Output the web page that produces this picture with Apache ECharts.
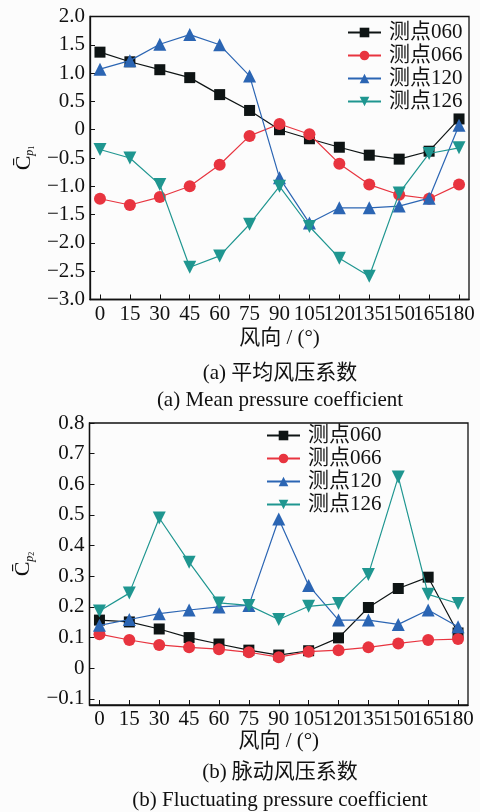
<!DOCTYPE html>
<html>
<head>
<meta charset="utf-8">
<script src="https://cdn.jsdelivr.net/npm/echarts@6/dist/echarts.min.js"></script>
<style>
    html, body { margin: 0; padding: 0; background: #fcfcfc; }
    #main { width: 480px; height: 812px; }
</style>
</head>
<body>
<div id="main"></div>
<script>
    // 风向 (°)
    var angles = [0, 15, 30, 45, 60, 75, 90, 105, 120, 135, 150, 165, 180];
    var names = ['测点060', '测点066', '测点120', '测点126'];

    // (a) 平均风压系数
    var mean060 = [1.37, 1.20, 1.06, 0.92, 0.62, 0.34, 0.00, -0.16, -0.31, -0.45, -0.52, -0.38, 0.19];
    var mean066 = [-1.22, -1.33, -1.19, -1.00, -0.62, -0.11, 0.10, -0.08, -0.60, -0.97, -1.15, -1.22, -0.97];
    var mean120 = [1.07, 1.22, 1.51, 1.68, 1.50, 0.95, -0.85, -1.65, -1.38, -1.38, -1.35, -1.21, 0.08];
    var mean126 = [-0.35, -0.50, -0.97, -2.43, -2.23, -1.67, -1.00, -1.71, -2.27, -2.59, -1.12, -0.42, -0.32];

    // (b) 脉动风压系数
    var fluc060 = [0.157, 0.151, 0.128, 0.100, 0.079, 0.059, 0.043, 0.057, 0.099, 0.198, 0.260, 0.297, 0.115];
    var fluc066 = [0.111, 0.092, 0.076, 0.068, 0.062, 0.052, 0.036, 0.054, 0.059, 0.068, 0.081, 0.092, 0.095];
    var fluc120 = [0.140, 0.159, 0.178, 0.190, 0.200, 0.205, 0.487, 0.270, 0.157, 0.157, 0.143, 0.190, 0.135];
    var fluc126 = [0.187, 0.245, 0.490, 0.346, 0.213, 0.205, 0.159, 0.202, 0.211, 0.306, 0.624, 0.241, 0.211];

    var yTicksA = [-3, -2.5, -2, -1.5, -1, -0.5, 0, 0.5, 1, 1.5, 2];
    var yTicksB = [-0.1, 0, 0.1, 0.2, 0.3, 0.4, 0.5, 0.6, 0.7, 0.8];

    var colors = ['#0e1414', '#e8343f', '#2b65b3', '#1f9690'];
    var symbols = ['rect', 'circle', 'triangle', 'triangle'];
    var rotates = [0, 0, 0, 180];
    var sizes = [11, 12, 13, 13];
    var serif = "'Liberation Serif', 'Noto Sans CJK SC', serif";

    // 标签挤在一起, 分成两组放在两条重叠的x轴上, 免得被重叠检测隐藏
    var evenAngles = angles.filter(function (a, i) { return i % 2 === 0; });
    var oddAngles = angles.filter(function (a, i) { return i % 2 === 1; });

    function pairs(vals) {
        var out = [];
        for (var i = 0; i < angles.length; i++) {
            out.push([angles[i], vals[i]]);
        }
        return out;
    }

    function fmtY(v) {
        if (Math.abs(v) < 1e-9) return '0';
        return v.toFixed(1).replace('-', '\u2212');
    }

    function xAxisOf(idx, gap) {
        return {
            gridIndex: idx,
            type: 'value',
            min: -5,
            max: 185,
            name: '风向 / (°)',
            nameLocation: 'middle',
            nameGap: gap,
            nameTextStyle: {color: '#111', fontSize: 21, fontFamily: serif},
            axisLine: {show: true, onZero: false, lineStyle: {color: '#111', width: 1.3}},
            axisTick: {show: true, inside: true, length: 5, customValues: angles, lineStyle: {color: '#111'}},
            axisLabel: {color: '#111', fontSize: 21, fontFamily: serif, margin: 4, customValues: evenAngles},
            splitLine: {show: false}
        };
    }

    function xAxisOdd(idx) {
        return {
            gridIndex: idx,
            type: 'value',
            position: 'bottom',
            min: -5,
            max: 185,
            axisLine: {show: false},
            axisTick: {show: false},
            axisLabel: {color: '#111', fontSize: 21, fontFamily: serif, margin: 4, customValues: oddAngles},
            splitLine: {show: false}
        };
    }

    function yAxisOf(idx, min, max, ticks, sub) {
        return {
            gridIndex: idx,
            type: 'value',
            min: min,
            max: max,
            name: '{c|C\u0304}{p|p}{n|' + sub + '}',
            nameLocation: 'middle',
            nameRotate: 90,
            nameGap: 54,
            nameTextStyle: {
                color: '#111',
                rich: {
                    c: {fontSize: 22, fontFamily: serif, color: '#111', lineHeight: 24},
                    p: {fontSize: 12, fontFamily: serif, fontStyle: 'italic', color: '#111', lineHeight: 24, verticalAlign: 'bottom'},
                    n: {fontSize: 8, fontFamily: serif, color: '#111', lineHeight: 24, verticalAlign: 'bottom'}
                }
            },
            axisLine: {show: true, onZero: false, lineStyle: {color: '#111', width: 1.3}},
            axisTick: {show: true, inside: true, length: 5, customValues: ticks, lineStyle: {color: '#111'}},
            axisLabel: {color: '#111', fontSize: 21, fontFamily: serif, margin: 5, customValues: ticks, formatter: fmtY},
            splitLine: {show: false}
        };
    }

    var lists = [[mean060, mean066, mean120, mean126], [fluc060, fluc066, fluc120, fluc126]];
    var series = [];
    for (var g = 0; g < 2; g++) {
        for (var k = 0; k < 4; k++) {
            series.push({
                name: names[k],
                type: 'line',
                xAxisIndex: g,
                yAxisIndex: g,
                data: pairs(lists[g][k]),
                symbol: symbols[k],
                symbolSize: sizes[k],
                symbolRotate: rotates[k],
                showAllSymbol: true,
                lineStyle: {color: colors[k], width: 1.2},
                itemStyle: {color: colors[k], opacity: 1},
                z: 2 + k,
                animation: false
            });
        }
    }

    function legendOf(left, top) {
        return {
            orient: 'vertical',
            left: left,
            top: top,
            itemWidth: 33,
            itemHeight: 12,
            itemGap: 2,
            padding: 0,
            data: names,
            textStyle: {color: '#111', fontSize: 21, fontFamily: serif, padding: [0, 0, 0, 3]}
        };
    }

    var captionFont = '21px ' + serif;
    var option = {
        backgroundColor: '#fcfcfc',
        animation: false,
        grid: [
            {left: 90, top: 16.5, width: 379, height: 283, show: true, borderColor: '#111', borderWidth: 1.3, backgroundColor: 'transparent'},
            {left: 89.5, top: 423, width: 378.5, height: 282, show: true, borderColor: '#111', borderWidth: 1.3, backgroundColor: 'transparent'}
        ],
        legend: [legendOf(347, 22), legendOf(266, 425)],
        xAxis: [xAxisOf(0, 28), xAxisOf(1, 24), xAxisOdd(0), xAxisOdd(1)],
        yAxis: [yAxisOf(0, -3, 2, yTicksA, '1'), yAxisOf(1, -0.12, 0.8, yTicksB, '2')],
        series: series,
        graphic: [
            {type: 'text', style: {x: 280, y: 373, text: '(a) 平均风压系数', font: captionFont, fill: '#111', textAlign: 'center', textVerticalAlign: 'middle'}},
            {type: 'text', style: {x: 280, y: 400, text: '(a) Mean pressure coefficient', font: captionFont, fill: '#111', textAlign: 'center', textVerticalAlign: 'middle'}},
            {type: 'text', style: {x: 280, y: 772, text: '(b) 脉动风压系数', font: captionFont, fill: '#111', textAlign: 'center', textVerticalAlign: 'middle'}},
            {type: 'text', style: {x: 280, y: 800, text: '(b) Fluctuating pressure coefficient', font: captionFont, fill: '#111', textAlign: 'center', textVerticalAlign: 'middle'}}
        ]
    };

    var myChart = echarts.init(document.getElementById('main'));
    option && myChart.setOption(option);
</script>
</body>
</html>
